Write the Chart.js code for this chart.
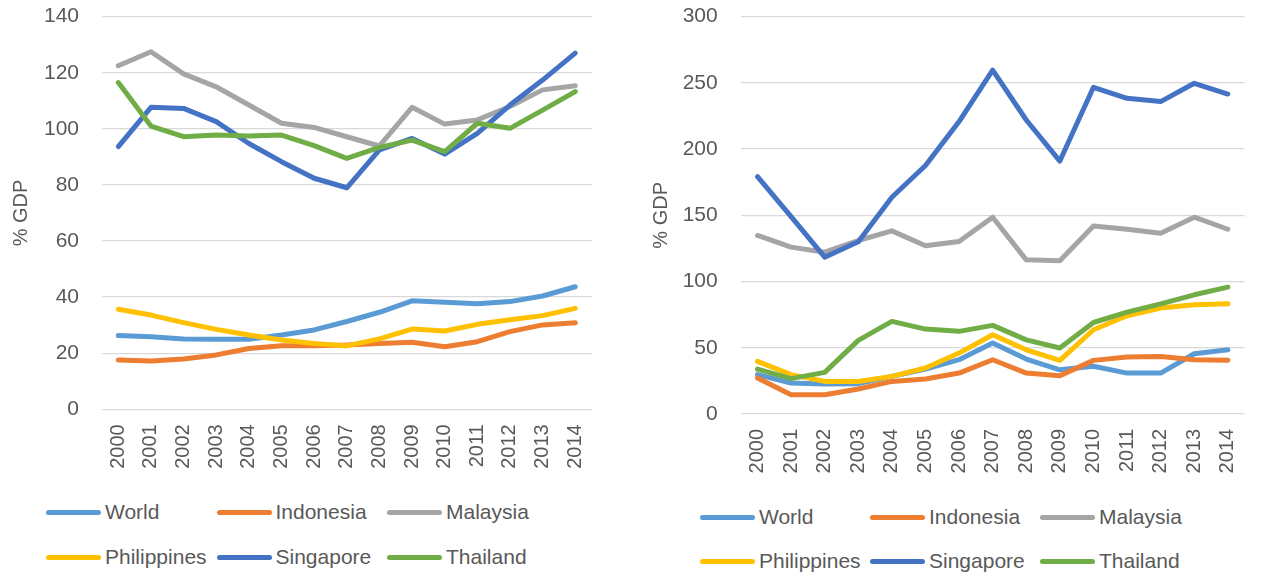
<!DOCTYPE html>
<html>
<head>
<meta charset="utf-8">
<script src="https://cdn.jsdelivr.net/npm/chart.js@4"></script>
<style>
  body { margin: 0; background: #fff; width: 1267px; height: 575px; overflow: hidden; position: relative; font-family: "Liberation Sans", Arial, sans-serif; }
  .box { position: absolute; top: 0; height: 480px; }
  #leftBox { left: 0; width: 615px; }
  #rightBox { left: 620px; width: 647px; }
  .item { position: absolute; display: flex; align-items: center; white-space: nowrap; font-size: 21px; color: #595959; }
  .swatch { width: 55px; height: 5px; border-radius: 2.5px; margin-right: 4px; }
</style>
</head>
<body>
<div class="box" id="leftBox"><canvas id="leftChart"></canvas></div>
<div class="box" id="rightBox"><canvas id="rightChart"></canvas></div>
<div id="leftLegend"></div>
<div id="rightLegend"></div>
<script>
const years = ["2000", "2001", "2002", "2003", "2004", "2005", "2006", "2007",
  "2008", "2009", "2010", "2011", "2012", "2013", "2014"];
const seriesNames = ["World", "Indonesia", "Malaysia", "Philippines", "Singapore", "Thailand"];
const seriesColors = ["#5B9BD5", "#ED7D31", "#A5A5A5", "#FFC000", "#4472C4", "#70AD47"];

// left panel
const leftWorld = [26.3, 25.9, 25.1, 25.0, 25.0, 26.5, 28.3, 31.3, 34.6, 38.7, 38.2, 37.6, 38.4, 40.4, 43.7];
const leftIndonesia = [17.6, 17.2, 17.9, 19.4, 21.7, 22.7, 22.7, 22.9, 23.5, 23.9, 22.3, 24.1, 27.7, 30.1, 30.9];
const leftMalaysia = [122.5, 127.5, 119.6, 115.0, 108.5, 102.0, 100.5, 97.2, 93.9, 107.7, 101.7, 103.2, 108.0, 113.9, 115.4];
const leftPhilippines = [35.7, 33.6, 30.9, 28.5, 26.5, 24.7, 23.5, 22.6, 25.1, 28.6, 27.9, 30.3, 31.9, 33.4, 36.0];
const leftSingapore = [93.7, 107.7, 107.3, 102.6, 94.8, 88.3, 82.4, 79.0, 92.5, 96.6, 91.0, 98.4, 108.5, 117.4, 127.0];
const leftThailand = [116.5, 101.0, 97.2, 97.8, 97.5, 97.8, 94.0, 89.5, 93.4, 96.0, 91.9, 102.0, 100.2, 106.7, 113.3];
const leftTicks = [0, 20, 40, 60, 80, 100, 120, 140];

// right panel
const rightWorld = [29.7, 23.4, 22.6, 22.9, 28.4, 33.9, 41.0, 53.6, 41.5, 33.4, 36.0, 30.9, 30.9, 45.5, 48.5];
const rightIndonesia = [27.2, 14.6, 14.6, 18.9, 24.6, 26.4, 30.9, 41.0, 30.9, 28.9, 40.5, 43.0, 43.5, 41.0, 40.5];
const rightMalaysia = [134.8, 126.0, 122.2, 131.0, 138.3, 127.0, 130.2, 148.6, 116.4, 115.7, 142.0, 139.5, 136.5, 148.6, 139.5];
const rightPhilippines = [39.7, 29.7, 24.6, 24.6, 28.4, 34.7, 46.0, 59.8, 48.5, 40.5, 63.6, 74.2, 80.0, 82.5, 83.2];
const rightSingapore = [179.3, 149.0, 118.4, 130.0, 163.7, 187.6, 220.8, 259.7, 222.0, 191.0, 246.7, 238.4, 235.9, 249.7, 241.6];
const rightThailand = [33.9, 26.7, 31.4, 55.6, 69.9, 64.1, 62.4, 66.9, 56.0, 49.8, 69.1, 76.9, 83.2, 90.0, 95.8];
const rightTicks = [0, 50, 100, 150, 200, 250, 300];

Chart.defaults.font.family = "'Liberation Sans', Arial, sans-serif";
Chart.defaults.color = "#595959";

function makeDatasets(seriesList) {
  return seriesList.map((values, i) => ({
    label: seriesNames[i],
    data: values,
    borderColor: seriesColors[i],
    backgroundColor: seriesColors[i],
    borderWidth: 5,
    borderCapStyle: "round",
    borderJoinStyle: "round",
    pointRadius: 0,
    tension: 0,
    order: seriesList.length - i,
  }));
}

function makeChart(canvasId, seriesList, ticks, cfg) {
  const maxVal = ticks[ticks.length - 1];
  const step = ticks[1] - ticks[0];
  return new Chart(document.getElementById(canvasId), {
    type: "line",
    data: { labels: years, datasets: makeDatasets(seriesList) },
    options: {
      responsive: true,
      maintainAspectRatio: false,
      animation: false,
      layout: { padding: { top: 16.7, right: cfg.padRight, bottom: 0, left: 0 } },
      plugins: { legend: { display: false }, tooltip: { enabled: false } },
      scales: {
        x: {
          offset: true,
          grid: { display: false, drawTicks: false },
          border: { display: false },
          ticks: {
            font: { size: 20 },
            color: "#595959",
            minRotation: 90,
            maxRotation: 90,
            padding: 15,
            autoSkip: false,
          },
          afterFit: (scale) => { scale.height = cfg.xHeight; },
        },
        y: {
          min: 0,
          max: maxVal,
          // invisible tick marks keep the label gap without padding the top
          grid: { color: "#d9d9d9", lineWidth: 1.3, drawTicks: true, tickLength: cfg.tickGap, tickColor: "rgba(0,0,0,0)" },
          border: { display: false },
          ticks: {
            stepSize: step,
            font: { size: 21 },
            color: "#595959",
            padding: 0,
          },
          title: {
            display: true,
            text: "% GDP",
            font: { size: 20 },
            color: "#595959",
            padding: { top: cfg.titlePad, bottom: 0 },
          },
          afterFit: (scale) => { scale.width = cfg.yWidth; },
        },
      },
    },
  });
}

makeChart("leftChart",
  [leftWorld, leftIndonesia, leftMalaysia, leftPhilippines, leftSingapore, leftThailand],
  leftTicks,
  { padRight: 23, xHeight: 70.7, yWidth: 102, tickGap: 23, titlePad: 9 });

makeChart("rightChart",
  [rightWorld, rightIndonesia, rightMalaysia, rightPhilippines, rightSingapore, rightThailand],
  rightTicks,
  { padRight: 5, xHeight: 66, yWidth: 120.7, tickGap: 23, titlePad: 29 });

function buildLegend(containerId, x0, pitch, rowYs) {
  const container = document.getElementById(containerId);
  seriesNames.forEach((name, i) => {
    const item = document.createElement("div");
    item.className = "item";
    item.style.left = `${x0 + (i % 3) * pitch}px`;
    item.style.top = `${rowYs[Math.floor(i / 3)] - 13}px`;
    item.innerHTML = `<span class="swatch" style="background:${seriesColors[i]}"></span><span>${name}</span>`;
    container.appendChild(item);
  });
}

buildLegend("leftLegend", 46, 170.5, [513, 558]);
buildLegend("rightLegend", 700, 170, [518, 562]);
</script>
</body>
</html>
